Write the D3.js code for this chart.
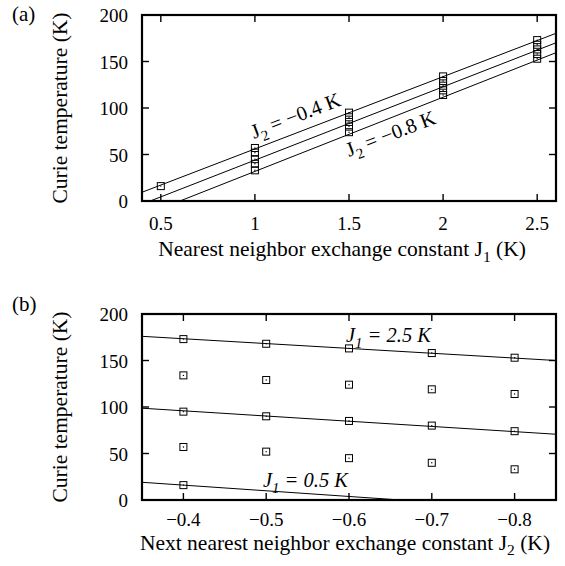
<!DOCTYPE html>
<html>
<head>
<meta charset="utf-8">
<script src="https://cdn.jsdelivr.net/npm/d3@7"></script>
<style>
  html, body { margin: 0; padding: 0; background: #fff; }
  svg text { font-family: "Liberation Serif", "Times New Roman", serif; fill: #000; }
</style>
</head>
<body>
<svg id="chart" width="565" height="566"></svg>
<script>
// Nearest (J1) and next-nearest (J2) exchange constants, in K
const j1Values = [0.5, 1, 1.5, 2, 2.5];
const j2Values = [-0.4, -0.5, -0.6, -0.7, -0.8];

// Curie temperature (K) for each J1, listed in J2 order (null = no transition found)
const tcJ1_05 = [16, null, null, null, null];
const tcJ1_10 = [57, 52, 45, 40, 33];
const tcJ1_15 = [95, 90, 85, 80, 74];
const tcJ1_20 = [134, 129, 124, 119, 114];
const tcJ1_25 = [173, 168, 163, 158, 153];
const tcRows = [tcJ1_05, tcJ1_10, tcJ1_15, tcJ1_20, tcJ1_25];

// Linear fits Tc = intercept + slope * J
// (a) Tc vs J1 at fixed J2
const fitJ2Levels = [-0.4, -0.6, -0.8];
const fitJ1Slope = [77.7, 78.9, 79.8];
const fitJ1Intercept = [-21.7, -35.0, -48.0];
// (b) Tc vs J2 at fixed J1
const fitJ1Levels = [2.5, 1.5, 0.5];
const fitJ2Slope = [52, 56, 61];
const fitJ2Intercept = [194.2, 118.3, 40.4];

// Axis ticks
const tcTicks = [0, 50, 100, 150, 200];
const j1Ticks = [0.5, 1, 1.5, 2, 2.5];
const j2Ticks = [-0.4, -0.5, -0.6, -0.7, -0.8];

const svg = d3.select("#chart");
const TICK_FONT = 19;
const TITLE_FONT = 21.5;
const NOTE_FONT = 20.5;
const plotLeft = 142, plotRight = 556;

function fmtNum(v) {
  return String(v).replace("-", "\u2212");
}

// Plot frame with inward ticks on all four sides, plus tick labels
function drawFrame(g, x, y, xTicks, yTicks, xLabelY) {
  const [x0, x1] = x.range();
  const [y0, y1] = y.range(); // y0 bottom, y1 top
  const tick = 7;
  const ticks = g.append("g").attr("stroke", "#000").attr("stroke-width", 1.4);
  xTicks.forEach(t => {
    const px = x(t);
    ticks.append("line").attr("x1", px).attr("x2", px).attr("y1", y0).attr("y2", y0 - tick);
    ticks.append("line").attr("x1", px).attr("x2", px).attr("y1", y1).attr("y2", y1 + tick);
  });
  yTicks.forEach(t => {
    const py = y(t);
    ticks.append("line").attr("x1", x0).attr("x2", x0 + tick).attr("y1", py).attr("y2", py);
    ticks.append("line").attr("x1", x1).attr("x2", x1 - tick).attr("y1", py).attr("y2", py);
  });
  g.append("rect")
    .attr("x", x0).attr("y", y1)
    .attr("width", x1 - x0).attr("height", y0 - y1)
    .attr("fill", "none").attr("stroke", "#000").attr("stroke-width", 2.2);

  g.selectAll("text.xt").data(xTicks).join("text")
    .attr("class", "xt")
    .attr("x", d => x(d)).attr("y", xLabelY)
    .attr("text-anchor", "middle").attr("font-size", TICK_FONT)
    .text(d => fmtNum(d));
  g.selectAll("text.yt").data(yTicks).join("text")
    .attr("class", "yt")
    .attr("x", x0 - 14).attr("y", d => y(d) + 7)
    .attr("text-anchor", "end").attr("font-size", TICK_FONT)
    .text(d => d);
}

// Open square markers with a centre dot
function drawSquares(g, pts) {
  const s = 7;
  const m = g.append("g");
  m.selectAll("rect").data(pts).join("rect")
    .attr("x", d => d[0] - s / 2).attr("y", d => d[1] - s / 2)
    .attr("width", s).attr("height", s)
    .attr("fill", "none").attr("stroke", "#000").attr("stroke-width", 1);
  m.selectAll("circle").data(pts).join("circle")
    .attr("cx", d => d[0]).attr("cy", d => d[1]).attr("r", 0.7).attr("fill", "#000");
}

// Text with one subscript: [base, subscript, rest]
function subLabel(sel, parts, size) {
  sel.append("tspan").text(parts[0]);
  sel.append("tspan").attr("dy", size * 0.27).attr("font-size", size * 0.72).text(parts[1]);
  sel.append("tspan").attr("dy", -size * 0.27).text(parts[2]);
}

/* ---------- Panel (a): Tc vs J1 ---------- */
{
  const x = d3.scaleLinear().domain([0.4, 2.6]).range([plotLeft, plotRight]);
  const y = d3.scaleLinear().domain([0, 200]).range([201, 15]);
  const g = svg.append("g");

  g.append("clipPath").attr("id", "clipA").append("rect")
    .attr("x", plotLeft).attr("y", 15).attr("width", plotRight - plotLeft).attr("height", 186);

  const line = d3.line().x(d => x(d[0])).y(d => y(d[1]));
  const fits = g.append("g").attr("clip-path", "url(#clipA)");
  fitJ2Levels.forEach((lv, i) => {
    fits.append("path")
      .attr("d", line(x.domain().map(v => [v, fitJ1Intercept[i] + fitJ1Slope[i] * v])))
      .attr("fill", "none").attr("stroke", "#000").attr("stroke-width", 1);
  });

  const pts = [];
  tcRows.forEach((row, i) => row.forEach(v => { if (v != null) pts.push([x(j1Values[i]), y(v)]); }));
  drawSquares(g, pts);

  drawFrame(g, x, y, j1Ticks, tcTicks, 230);

  // fit labels, rotated along the lines
  const ang = -Math.atan((y(0) - y(fitJ1Slope[0])) / (x(1) - x(0))) * 180 / Math.PI;
  const la = g.append("text").attr("font-size", NOTE_FONT)
    .attr("transform", `translate(254,139) rotate(${ang})`);
  subLabel(la, ["J", "2", " = \u2212" + "0.4 K"], NOTE_FONT);
  const lb = g.append("text").attr("font-size", NOTE_FONT)
    .attr("transform", `translate(349,157) rotate(${ang})`);
  subLabel(lb, ["J", "2", " = \u2212" + "0.8 K"], NOTE_FONT);

  const xt = g.append("text").attr("x", 342).attr("y", 256)
    .attr("text-anchor", "middle").attr("font-size", TITLE_FONT);
  subLabel(xt, ["Nearest neighbor exchange constant J", "1", " (K)"], TITLE_FONT);

  g.append("text").attr("transform", "translate(67,108) rotate(-90)")
    .attr("text-anchor", "middle").attr("font-size", TITLE_FONT)
    .text("Curie temperature (K)");
  g.append("text").attr("x", 12).attr("y", 21).attr("font-size", 21).text("(a)");
}

/* ---------- Panel (b): Tc vs J2 ---------- */
{
  const x = d3.scaleLinear().domain([-0.35, -0.85]).range([plotLeft, plotRight]);
  const y = d3.scaleLinear().domain([0, 200]).range([500, 314]);
  const g = svg.append("g");

  g.append("clipPath").attr("id", "clipB").append("rect")
    .attr("x", plotLeft).attr("y", 314).attr("width", plotRight - plotLeft).attr("height", 186);

  const line = d3.line().x(d => x(d[0])).y(d => y(d[1]));
  const fits = g.append("g").attr("clip-path", "url(#clipB)");
  fitJ1Levels.forEach((lv, i) => {
    fits.append("path")
      .attr("d", line(x.domain().map(v => [v, fitJ2Intercept[i] + fitJ2Slope[i] * v])))
      .attr("fill", "none").attr("stroke", "#000").attr("stroke-width", 1);
  });

  const pts = [];
  tcRows.forEach(row => row.forEach((v, j) => { if (v != null) pts.push([x(j2Values[j]), y(v)]); }));
  drawSquares(g, pts);

  drawFrame(g, x, y, j2Ticks, tcTicks, 525.5);

  const l1 = g.append("text").attr("x", 346).attr("y", 342)
    .attr("font-size", NOTE_FONT).attr("font-style", "italic");
  subLabel(l1, ["J", "1", " = 2.5 K"], NOTE_FONT);
  const l2 = g.append("text").attr("x", 263).attr("y", 487)
    .attr("font-size", NOTE_FONT).attr("font-style", "italic");
  subLabel(l2, ["J", "1", " = 0.5 K"], NOTE_FONT);

  const xt = g.append("text").attr("x", 345).attr("y", 549.5)
    .attr("text-anchor", "middle").attr("font-size", TITLE_FONT);
  subLabel(xt, ["Next nearest neighbor exchange constant J", "2", " (K)"], TITLE_FONT);

  g.append("text").attr("transform", "translate(67,407) rotate(-90)")
    .attr("text-anchor", "middle").attr("font-size", TITLE_FONT)
    .text("Curie temperature (K)");
  g.append("text").attr("x", 12).attr("y", 311).attr("font-size", 21).text("(b)");
}
</script>
</body>
</html>
